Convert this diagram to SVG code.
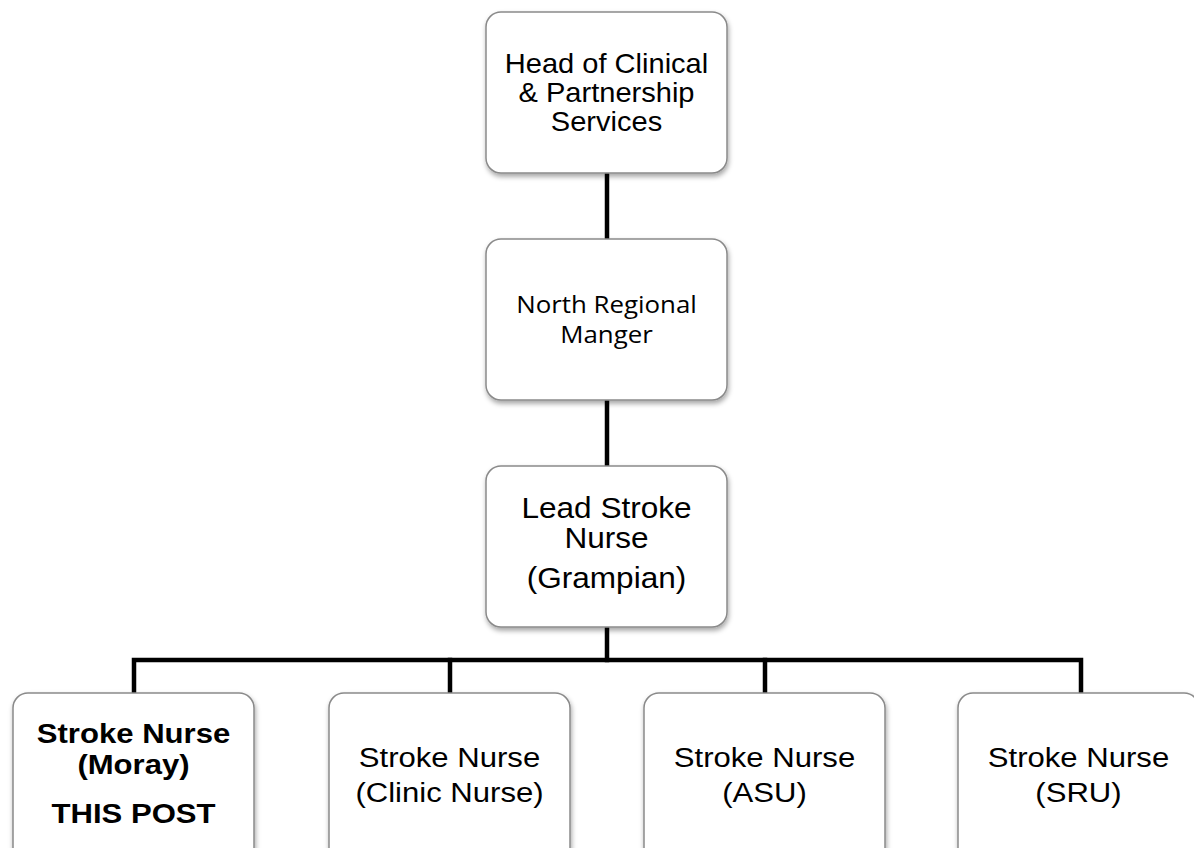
<svg xmlns="http://www.w3.org/2000/svg" width="1194" height="848" viewBox="0 0 1194 848">
<defs>
<filter id="sh" x="-10%" y="-10%" width="125%" height="130%">
<feDropShadow dx="1" dy="3" stdDeviation="2.5" flood-color="#000" flood-opacity="0.35"/>
</filter>
<style>
.box{fill:#fff;stroke:#8a8a8a;stroke-width:1.5;filter:url(#sh)}
.t{font-family:"Liberation Sans",Arial,sans-serif;fill:#000;text-anchor:middle}
.c{font-family:"Open Sans","Noto Sans",sans-serif;fill:#000;text-anchor:middle;font-size:23.5px}
.b{font-weight:bold}
.ln{stroke:#000;stroke-width:4.5;fill:none;stroke-linecap:square}
</style>
</defs>
<rect width="1194" height="848" fill="#fff"/>
<g id="connectors">
<line class="ln" x1="607" y1="173" x2="607" y2="239"/>
<line class="ln" x1="607" y1="400" x2="607" y2="466"/>
<line class="ln" x1="607" y1="627" x2="607" y2="660"/>
<polyline class="ln" points="134,693 134,660 1081,660 1081,693"/>
<line class="ln" x1="450" y1="660" x2="450" y2="693"/>
<line class="ln" x1="765" y1="660" x2="765" y2="693"/>
</g>
<g id="head">
<rect class="box" x="486" y="12" width="241" height="161" rx="15"/>
<g transform="translate(606.5 0) scale(1.02 1)">
<text class="t" x="0" y="73.5" font-size="28.5">Head of Clinical</text>
<text class="t" x="0" y="102.5" font-size="28.5">&amp; Partnership</text>
<text class="t" x="0" y="131.5" font-size="28.5">Services</text>
</g>
</g>
<g id="regional">
<rect class="box" x="486" y="239" width="241" height="161" rx="15"/>
<g transform="translate(606.5 0) scale(1.1 1)">
<text class="c" x="0" y="313">North Regional</text>
<text class="c" x="0" y="343">Manger</text>
</g>
</g>
<g id="lead">
<rect class="box" x="486" y="466" width="241" height="161" rx="15"/>
<g transform="translate(606.5 0) scale(1.07 1)">
<text class="t" x="0" y="518" font-size="29.5">Lead Stroke</text>
<text class="t" x="0" y="548" font-size="29.5">Nurse</text>
<text class="t" x="0" y="588" font-size="29.5">(Grampian)</text>
</g>
</g>
<g id="moray">
<rect class="box" x="13" y="693" width="241" height="170" rx="15"/>
<g transform="translate(133.5 0) scale(1.11 1)">
<text class="t b" x="0" y="743" font-size="28">Stroke Nurse</text>
<text class="t b" x="0" y="774" font-size="28">(Moray)</text>
<text class="t b" x="0" y="823" font-size="28">THIS POST</text>
</g>
</g>
<g id="clinic">
<rect class="box" x="329" y="693" width="241" height="170" rx="15"/>
<g transform="translate(449.5 0) scale(1.11 1)">
<text class="t" x="0" y="767" font-size="28">Stroke Nurse</text>
<text class="t" x="0" y="802" font-size="28">(Clinic Nurse)</text>
</g>
</g>
<g id="asu">
<rect class="box" x="644" y="693" width="241" height="170" rx="15"/>
<g transform="translate(764.5 0) scale(1.11 1)">
<text class="t" x="0" y="767" font-size="28">Stroke Nurse</text>
<text class="t" x="0" y="802" font-size="28">(ASU)</text>
</g>
</g>
<g id="sru">
<rect class="box" x="958" y="693" width="241" height="170" rx="15"/>
<g transform="translate(1078.5 0) scale(1.11 1)">
<text class="t" x="0" y="767" font-size="28">Stroke Nurse</text>
<text class="t" x="0" y="802" font-size="28">(SRU)</text>
</g>
</g>
</svg>
